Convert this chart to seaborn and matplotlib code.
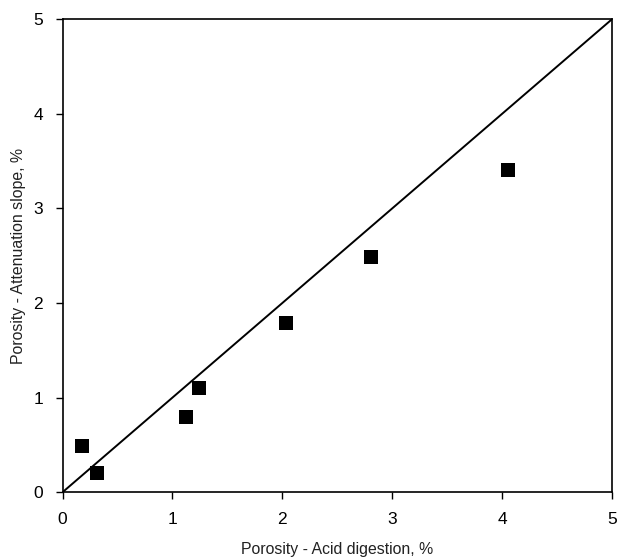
import matplotlib
matplotlib.use('Agg')
import matplotlib.pyplot as plt
import seaborn as sns

# Porosity values
acid_digestion = [0.18, 0.31, 1.12, 1.24, 2.03, 2.81, 4.05]
attenuation_slope = [0.49, 0.20, 0.80, 1.10, 1.79, 2.49, 3.40]

# 1:1 reference line
line_x = [0, 5]
line_y = [0, 5]

ticks = [0, 1, 2, 3, 4, 5]

sns.set_style('ticks')
plt.rcParams['font.family'] = ['Liberation Sans', 'DejaVu Sans']

fig = plt.figure(figsize=(6.19, 5.60), dpi=100)
ax = fig.add_axes([0.101, 0.121, 0.888, 0.845])

# Diagonal line
sns.lineplot(x=line_x, y=line_y, color='black', linewidth=1.4, ax=ax)
# Measured points
sns.scatterplot(x=acid_digestion, y=attenuation_slope, marker='s', s=95,
                color='black', edgecolor='black', linewidth=0, ax=ax, zorder=3)

ax.set_xlim(0, 5)
ax.set_ylim(0, 5)
ax.set_xticks(ticks)
ax.set_yticks(ticks)
ax.tick_params(direction='out', length=5, width=1, labelsize=12.5, colors='black', pad=9)

for side in ['top', 'right', 'bottom', 'left']:
    ax.spines[side].set_visible(True)
    ax.spines[side].set_color('black')
    ax.spines[side].set_linewidth(1.2)

ax.set_xlabel('Porosity - Acid digestion, %', fontsize=11.4, color='#222222', labelpad=11)
ax.set_ylabel('Porosity - Attenuation slope, %', fontsize=11.4, color='#222222', labelpad=5)

fig.savefig('out.png', dpi=100)
